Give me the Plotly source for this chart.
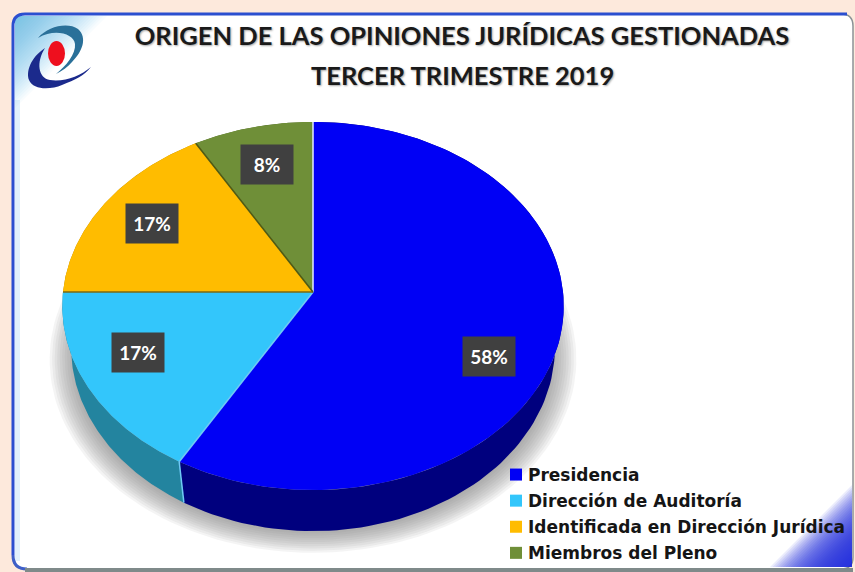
import numpy as np
import plotly.graph_objects as go

# ---- data ----
categories = ["Presidencia", "Dirección de Auditoría", "Identificada en Dirección Jurídica", "Miembros del Pleno"]
opinions = [7, 2, 2, 1]
percent_labels = ["58%", "17%", "17%", "8%"]
title_line_1 = "ORIGEN DE LAS OPINIONES JURÍDICAS GESTIONADAS"
title_line_2 = "TERCER TRIMESTRE 2019"

# ---- style ----
top_colors = ["#0000F5", "#33C6FB", "#FFBC00", "#6F8F38"]
side_colors = ["#00007E", "#23849F", "#A87C00", "#4A5F25"]
label_xy = [(489, 356), (138, 352), (152, 223), (267, 164)]

W, H = 855, 572
CX, CY, R, S, K, DEPTH, TAPER = 313, 292, 250, 183, 0.076, 41, 0.965


def rim(theta, f=1.0):
    """Perspective projection of a tilted disc; theta is clockwise from 12 o'clock."""
    u, v = f * np.sin(theta), -f * np.cos(theta)
    d = 1 - K * v
    return CX + R * u / d, CY + S * v / d


fig = go.Figure()

# soft drop shadow under the pie
th = np.linspace(0, 2 * np.pi, 181)
for i, f in enumerate(np.linspace(1.05, 0.92, 14)):
    x, y = rim(th, f)
    fig.add_trace(go.Scatter(x=x, y=y + DEPTH + 11, mode="lines", fill="toself", line_width=0,
                             fillcolor="rgba(125,125,125,0.085)", showlegend=False, hoverinfo="skip"))

total = sum(opinions)
edges = 2 * np.pi * np.cumsum([0] + opinions) / total

# sides, back to front
for i in [3, 2, 0, 1]:
    t = np.linspace(edges[i], edges[i + 1], 120)
    x, y = rim(t)
    xs = np.r_[x, CX + (x[::-1] - CX) * TAPER]
    ys = np.r_[y, y[::-1] + DEPTH]
    fig.add_trace(go.Scatter(x=xs, y=ys, mode="lines", fill="toself", line_width=0,
                             fillcolor=side_colors[i], showlegend=False, hoverinfo="skip"))

# edge between the two front sides
xe, ye = rim(np.array([edges[1]]))
fig.add_trace(go.Scatter(x=[xe[0], CX + (xe[0] - CX) * TAPER], y=[ye[0], ye[0] + DEPTH], mode="lines",
                         line=dict(color="#6FC8F5", width=1.5), showlegend=False, hoverinfo="skip"))

# top faces
for i in range(4):
    t = np.linspace(edges[i], edges[i + 1], 160)
    x, y = rim(t)
    fig.add_trace(go.Scatter(x=np.r_[CX, x, CX], y=np.r_[CY, y, CY], mode="lines", fill="toself",
                             line_width=0, fillcolor=top_colors[i], showlegend=False, hoverinfo="skip"))

# slice separators
for i, e in enumerate(edges[:4]):
    x, y = rim(np.array([e]))
    col = ["#D8E4F8", "#6FC8F5", "#7A6A10", "#4F5A15"][i]
    fig.add_trace(go.Scatter(x=[CX, x[0]], y=[CY, y[0]], mode="lines",
                             line=dict(color=col, width=1.6), showlegend=False, hoverinfo="skip"))

# legend entries
for i, name in enumerate(categories):
    fig.add_trace(go.Scatter(x=[None], y=[None], mode="markers", name=name, legendgroup=name,
                             marker=dict(symbol="square", size=10, color=top_colors[i]), hoverinfo="skip"))

# ---- frame decoration ----
shapes = []
L, T, RT, B = 13, 14, 853, 569


def rr(l, t, r, b, c):
    return (f"M{l + c} {t} L{r - c} {t} Q{r} {t} {r} {t + c} L{r} {b - c} Q{r} {b} {r - c} {b} "
            f"L{l + c} {b} Q{l} {b} {l} {b - c} L{l} {t + c} Q{l} {t} {l + c} {t} Z")


shapes.append(dict(type="path", path=rr(L, T, RT, B, 12), fillcolor="white", line=dict(color="#8A9296", width=1.5), layer="below"))
# top-left glow
for d in np.linspace(8, 92, 28):
    shapes.append(dict(type="path", path=f"M{L + 2} {T + 2} L{L + 2 + d} {T + 2} L{L + 2} {T + 2 + d} Z",
                       fillcolor="rgba(70,180,240,0.04)", line_width=0, layer="below"))
# left inner strip
shapes.append(dict(type="rect", x0=L + 2, x1=L + 7, y0=100, y1=B - 8, fillcolor="rgba(120,190,240,0.22)", line_width=0, layer="below"))
# bottom-right corner glow
for d in np.linspace(8, 82, 30):
    shapes.append(dict(type="path", path=f"M{RT - 1} {B - 2} L{RT - 1 - d} {B - 2} L{RT - 1} {B - 2 - d} Z",
                       fillcolor="rgba(30,40,225,0.09)", line_width=0, layer="below"))
# edge strokes
shapes.append(dict(type="path", path=f"M{L} {B - 14} L{L} {T + 12} Q{L} {T} {L + 12} {T} L{RT - 6} {T}",
                   line=dict(color="#2B4FD0", width=3), layer="below"))
shapes.append(dict(type="path", path=f"M{L} {B - 14} Q{L} {B} {L + 14} {B}", line=dict(color="#3E5FC8", width=3), layer="below"))
shapes.append(dict(type="line", x0=L + 12, x1=RT, y0=B + 1, y1=B + 1, line=dict(color="#7F8A8A", width=4), layer="below"))

# logo
shapes += [
    dict(type="path", path="M45 48 C30 58 26 72 29 80 C33 90 50 90 62 85 C75 80 85 75 91 67 C80 76 65 82 50 80 C38 78 36 62 45 48 Z",
         fillcolor="#1B2A8C", line_width=0),
    dict(type="path", path="M38 38 C48 26 68 22 78 29 C88 38 82 52 72 62 C68 67 62 71 56 74 C66 66 76 54 75 44 C74 34 55 28 38 38 Z",
         fillcolor="#2A7099", line_width=0),
    dict(type="circle", x0=48, x1=65, y0=41, y1=66, fillcolor="#EE0F1E", line_width=0),
]

annotations = [
    dict(x=lx, y=ly, xref="x", yref="y", text=t, showarrow=False, width=50, height=37, bgcolor="#404040",
         font=dict(family="Lato", size=19, color="white", weight="bold"))
    for (lx, ly), t in zip(label_xy, percent_labels)
]
annotations.append(dict(x=462, y=75, xref="x", yref="y", text=title_line_2, showarrow=False,
                        font=dict(family="Lato", size=25.5, color="#1A1A1A", weight="bold",
                                  shadow="1px 1px 2px rgba(0,0,0,0.35)")))

fig.update_layout(
    width=W, height=H, margin=dict(l=0, r=0, t=0, b=0, autoexpand=False), autosize=False,
    paper_bgcolor="#FDE9DC", plot_bgcolor="rgba(0,0,0,0)",
    xaxis=dict(range=[0, W], visible=False, fixedrange=True),
    yaxis=dict(range=[H, 0], visible=False, fixedrange=True),
    title=dict(text=title_line_1, x=462 / W, xanchor="center", y=1 - 36 / H, yanchor="middle",
               font=dict(family="Lato", size=25.5, color="#1A1A1A", weight="bold",
                         shadow="1px 1px 2px rgba(0,0,0,0.35)")),
    legend=dict(x=496 / W, y=1 - 457 / H, xanchor="left", yanchor="top", bgcolor="rgba(0,0,0,0)",
                tracegroupgap=1, itemclick=False, itemdoubleclick=False, itemsizing="constant",
                font=dict(family="DejaVu Sans", size=17, color="#151515", weight="bold")),
    shapes=shapes, annotations=annotations, showlegend=True,
)

post = """
document.documentElement.style.margin = '0';
document.body.style.margin = '0';
document.body.style.overflow = 'hidden';
document.body.style.background = '#FDE9DC';
document.querySelectorAll('.legendtext').forEach(function (n) {
  n.setAttribute('x', parseFloat(n.getAttribute('x')) - 8);
});
"""
fig.write_html("out.html", config=dict(displayModeBar=False), post_script=post)
